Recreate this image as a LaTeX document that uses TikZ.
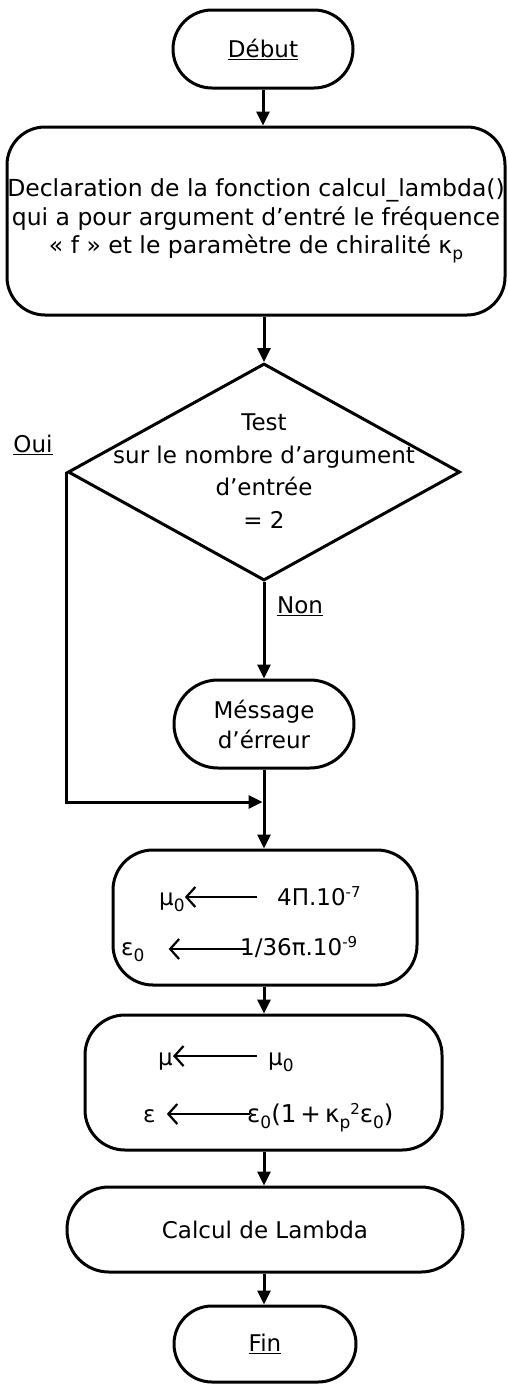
\documentclass[tikz,border=0pt]{standalone}
\usepackage{fontspec}
\setmainfont{DejaVu Sans}
\usetikzlibrary{arrows.meta,shapes.geometric}

% large lowered subscripts and raised superscripts
\newcommand{\lowsub}[1]{\raisebox{-6pt}{\fontsize{17}{17}\selectfont #1}}
\newcommand{\highsup}[1]{\raisebox{8pt}{\fontsize{15}{15}\selectfont #1}}

\begin{document}
\begin{tikzpicture}[x=1pt,y=-1pt,
  every node/.style={font=\fontsize{23}{28}\selectfont, text=black},
  flow/.style={draw, line width=3pt, -{Triangle[length=14pt,width=13pt]}},
  box/.style={draw, line width=3pt, rectangle, inner sep=0pt, align=center},
  decision/.style={draw, line width=3pt, diamond, inner sep=0pt,
    minimum width=392pt, minimum height=217pt},
  txt/.style={inner sep=0pt},
  assign/.style={draw, line width=2.2pt,
    -{Straight Barb[length=9pt,width=20pt,line width=2.2pt]}}
]
\useasboundingbox (0,0) rectangle (507,1384);

% main blocks
\node[box, rounded corners=39pt, minimum width=180pt, minimum height=78pt]
  (debut) at (263,49) {\underline{Début}};

\node[box, rounded corners=38pt, minimum width=498pt, minimum height=188pt,
  font=\fontsize{23.5}{28.5}\selectfont]
  (decl) at (256,221)
  {Declaration de la fonction calcul\_lambda()\\
   qui a pour argument d’entré le fréquence\\
   « f » et le paramètre de chiralité κ\lowsub{p}};

\node[decision] (test) at (264,472) {};
\node[txt, align=center, font=\fontsize{23}{32.5}\selectfont] (testtxt) at (264,471)
  {Test\\ sur le nombre d’argument\\ d’entrée\\ = 2};

\node[txt] (oui) at (33,445) {\underline{Oui}};
\node[txt] (non) at (300,606) {\underline{Non}};

\node[box, rounded corners=44pt, minimum width=180pt, minimum height=88pt,
  font=\fontsize{23}{30}\selectfont]
  (msg) at (264,724) {Méssage\\ d’érreur};

\coordinate (join) at (264,802);

\node[box, rounded corners=40pt, minimum width=304pt, minimum height=135pt]
  (cst) at (265,917.5) {};

\node[box, rounded corners=40pt, minimum width=357pt, minimum height=135pt]
  (mat) at (263.5,1082.5) {};

\node[box, rounded corners=42pt, minimum width=396pt, minimum height=85pt]
  (calc) at (265,1229.5) {Calcul de Lambda};

\node[box, rounded corners=38pt, minimum width=182pt, minimum height=76pt]
  (fin) at (265,1344) {\underline{Fin}};

% assignments in the constants block
\node[txt, anchor=base west] (m0) at (159,905) {μ\lowsub{0}};
\node[txt, anchor=base west] (v1) at (277,905) {4Π.10\highsup{-7}};
\draw[assign] ([xshift=-20pt]v1.mid west |- 0,897) -- (m0.east |- 0,897);

\node[txt, anchor=base west] (e0) at (121,955) {ε\lowsub{0}};
\node[txt, anchor=base west] (v2) at (240,955) {1/36π.10\highsup{-9}};
\draw[assign] ([xshift=7pt]v2.west |- 0,949) -- ([xshift=24pt]e0.east |- 0,949);

% assignments in the material block
\node[txt, anchor=base west] (mu) at (158,1065) {μ};
\node[txt, anchor=base west] (mv) at (268,1065) {μ\lowsub{0}};
\draw[assign] ([xshift=-11pt]mv.west |- 0,1056) -- (mu.east |- 0,1056);

\node[txt, anchor=base west] (eps) at (143,1122) {ε};
\node[txt, anchor=base west, font=\fontsize{24.5}{28}\selectfont] (ev) at (247,1122)
  {ε\lowsub{0}(1\,+\,κ\lowsub{p}\highsup{2}ε\lowsub{0})};
\draw[assign] ([xshift=3pt]ev.west |- 0,1114) -- ([xshift=11pt]eps.east |- 0,1114);

% connectors
\draw[flow] (debut.south) -- (debut.south |- decl.north);
\draw[flow] (decl.south -| test.north) -- (test.north);
\draw[flow] (test.south) -- (msg.north);
\draw[flow] (msg.south) -- (cst.north -| msg.south);
\draw[flow, shorten >=1.5pt] (test.west) |- (join);
\draw[flow] (cst.south -| msg.south) -- (mat.north -| msg.south);
\draw[flow] (mat.south -| msg.south) -- (calc.north -| msg.south);
\draw[flow] (calc.south -| msg.south) -- (fin.north -| msg.south);
\end{tikzpicture}
\end{document}
